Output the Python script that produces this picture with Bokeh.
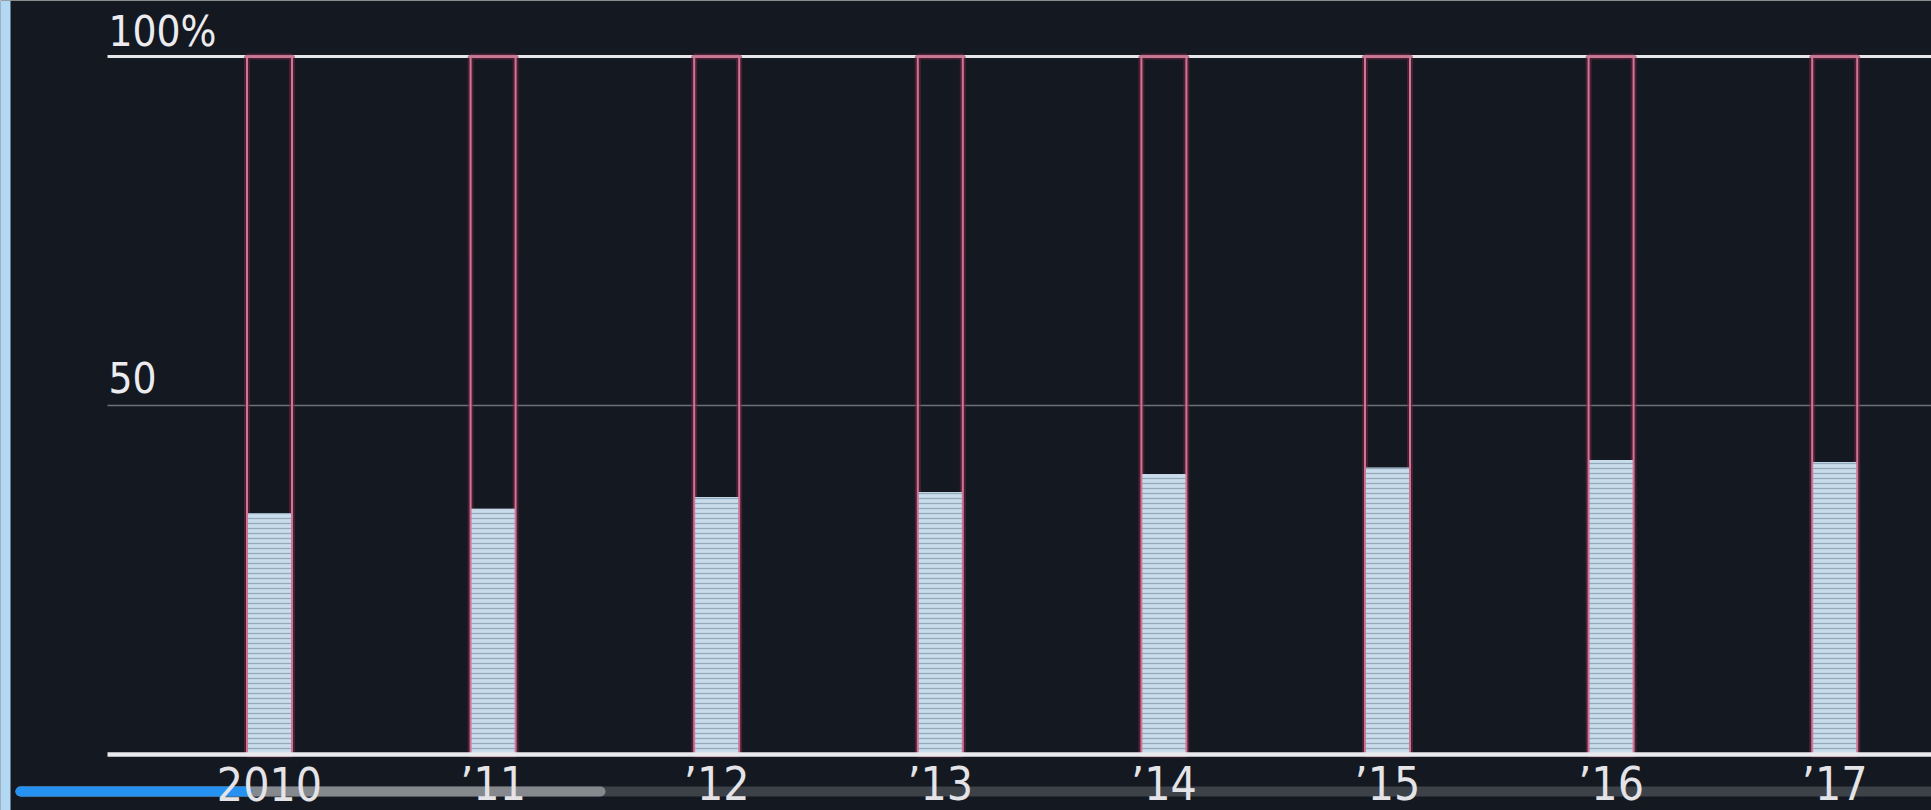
from bokeh.plotting import figure
from bokeh.models import Range1d, BoxAnnotation, ColumnDataSource
from bokeh.core.properties import value
from bokeh.embed import file_html
from bokeh.resources import INLINE

# ---- data ----
years = ["2010", "\u201911", "\u201912", "\u201913", "\u201914", "\u201915", "\u201916", "\u201917"]
shares = [34.6, 35.2, 36.9, 37.6, 40.2, 41.1, 42.2, 41.9]
full_scale = [100] * len(years)
y_ticks = [50, 100]
y_tick_labels = ["50", "100%"]

# ---- layout (pixels) ----
FIG_W, FIG_H, OFF = 1931, 810, 0
X0_PAGE, DX = 269.0, 223.6          # page x of first bar centre, bar spacing
Y0_PAGE, Y100_PAGE = 754.0, 56.0    # page y of 0 and 100
PPU = (Y0_PAGE - Y100_PAGE) / 100.0
AXIS_LEFT_PAGE = 107.0

x_start = -(X0_PAGE - OFF) / DX
x_end = x_start + FIG_W / DX
y_end = 100 + (Y100_PAGE - OFF) / PPU
y_start = -(OFF + FIG_H - Y0_PAGE) / PPU


def xd(px):
    return x_start + (px - OFF) / DX


def yd(py):
    return (Y0_PAGE - py) / PPU


BG = "#141921"
FONT = "DejaVu Sans Condensed, Roboto, sans-serif"
idx = list(range(len(years)))
bw = 45.0 / DX

src = ColumnDataSource(dict(x=idx, year=years, share=shares, full=full_scale))

p = figure(width=FIG_W, height=FIG_H,
           x_range=Range1d(x_start, x_end), y_range=Range1d(y_start, y_end),
           output_backend="svg", toolbar_location=None,
           x_axis_location=None, y_axis_location=None,
           min_border=0, background_fill_color=BG, border_fill_color=BG,
           outline_line_color=None)
p.grid.visible = False

# video progress bar (underlay)
for l, r, c in [(15, 1960, "#3d4148"), (15, 605, "#85888d"), (15, 252, "#2592f2")]:
    p.add_layout(BoxAnnotation(left=xd(l), right=xd(r), top=yd(786), bottom=yd(796),
                               fill_color=c, fill_alpha=1, line_color=None,
                               border_radius=5, level="underlay"))
p.add_layout(BoxAnnotation(left=xd(-2), right=xd(10), fill_color="#b3d8f3",
                           fill_alpha=1, line_color=None, level="underlay"))

# grid lines at 50 and 100
p.segment(x0=xd(AXIS_LEFT_PAGE), x1=x_end, y0=y_ticks, y1=y_ticks,
          line_color=["#6c7178", "#e6e6ea"], line_width=[1.3, 3])

# bars
p.vbar(x="x", width=bw, top="full", bottom=0, source=src,
       fill_alpha=0, line_color="#7a2245", line_width=6, line_alpha=0.55)
p.vbar(x="x", width=bw, top="share", bottom=0, source=src,
       fill_color="#c8dcec", line_alpha=0,
       hatch_pattern="horizontal_line", hatch_color="#95a9bc",
       hatch_scale=5, hatch_weight=1.3)
p.vbar(x="x", width=bw, top="full", bottom=0, source=src,
       fill_alpha=0, line_color="#cf7694", line_width=2)

# baseline
p.segment(x0=[xd(AXIS_LEFT_PAGE)], x1=[x_end], y0=[0], y1=[0],
          line_color="#e9e9ee", line_width=4.5)

# y labels
p.text(x=[xd(AXIS_LEFT_PAGE)] * 2, y=y_ticks, text=y_tick_labels,
       x_offset=1, y_offset=[-28, -25],
       text_font=value(FONT), text_font_size="42px", text_color="#ececf0",
       text_align="left", text_baseline="alphabetic")

# x labels
p.text(x="x", y=0, text="year", source=src, y_offset=29,
       text_font=value(FONT), text_font_size="46px", text_color="#e4e4e8",
       text_align="center", text_baseline="alphabetic")

open("out.html", "w").write(file_html(p, INLINE))
